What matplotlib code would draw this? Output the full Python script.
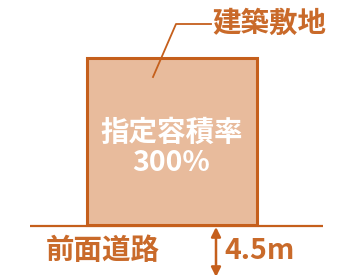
import matplotlib.pyplot as plt
from matplotlib.patches import Rectangle

plt.rcParams['font.family'] = ['Noto Sans CJK JP', 'DejaVu Sans']

# 図の内容
site_label = "建築敷地"
road_label = "前面道路"
ratio_label = "指定容積率"
ratio_value = 300      # %
road_width = 4.5       # m

edge = "#c55f1c"
fill = "#e8bb9c"
text_col = "#c96a2a"
fs = 20.5

fig = plt.figure(figsize=(3.37, 2.75), dpi=100)
ax = fig.add_axes([0, 0, 1, 1])
ax.set_xlim(0, 337)
ax.set_ylim(275, 0)
ax.axis("off")

# 敷地
ax.add_patch(Rectangle((87, 58), 170, 167, facecolor=fill, edgecolor=edge, linewidth=2.2))

# 道路の線
ax.plot([30, 323], [225.5, 225.5], color=edge, linewidth=1.6, solid_capstyle="butt")

# 引出線
ax.plot([153, 176, 211], [77, 24, 24], color=edge, linewidth=1.3)
ax.text(212, 24, site_label, color=text_col, fontsize=fs, fontweight="bold",
        ha="left", va="center")

# 容積率
ax.text(171.5, 133, ratio_label, color="white", fontsize=fs, fontweight="bold",
        ha="center", va="center")
ax.text(171.5, 163, f"{ratio_value}%", color="white", fontsize=fs, fontweight="bold",
        ha="center", va="center")

# 道路幅
ax.text(46, 251, road_label, color=text_col, fontsize=fs, fontweight="bold",
        ha="left", va="center")
ax.annotate("", xy=(216, 227), xytext=(216, 277),
            arrowprops=dict(arrowstyle="<|-|>", color=edge, lw=1.8,
                            mutation_scale=14, shrinkA=0, shrinkB=0))
ax.text(224, 251, f"{road_width}m", color=text_col, fontsize=fs, fontweight="bold",
        ha="left", va="center")

fig.savefig("out.png", dpi=100)
